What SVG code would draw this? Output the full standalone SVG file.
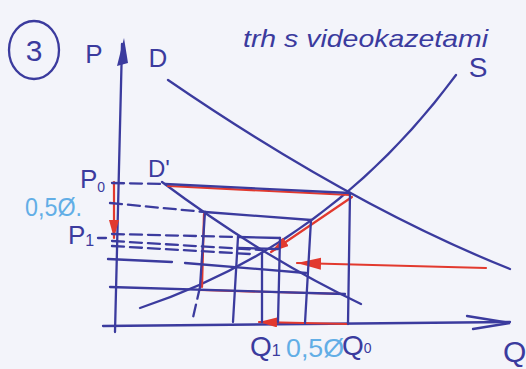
<svg xmlns="http://www.w3.org/2000/svg" width="526" height="369" viewBox="0 0 526 369">
<style>
.b{stroke:#3b3b9e;stroke-width:2.3;fill:none;stroke-linecap:round}
.d{stroke-dasharray:12 6}
.r{stroke:#e2392e;stroke-width:2.2;fill:none;stroke-linecap:round}
.t{font-family:"Liberation Sans",Arial,sans-serif;fill:#3b3b9e}
.lb{font-family:"Liberation Sans",Arial,sans-serif;fill:#62aee6}
</style>
<defs>
<marker id="ra" markerUnits="userSpaceOnUse" markerWidth="26" markerHeight="14" refX="24" refY="6" orient="auto">
<path d="M0,0 L24,6 L0,12 z" fill="#e2392e"/>
</marker>
<marker id="rs" markerUnits="userSpaceOnUse" markerWidth="20" markerHeight="12" refX="18" refY="5" orient="auto">
<path d="M0,0 L18,5 L0,10 z" fill="#e2392e"/>
</marker>
</defs>
<rect width="526" height="369" fill="#f3f4fa"/>

<g id="axes">
<path class="b" d="M115,332 L122,44"/>
<path d="M124,38 L117,66 L128,63 z" fill="#3b3b9e"/>
<path class="b" d="M103,326 L510,322"/>
<path class="b" d="M467,316 L510,323 L473,329"/>
</g>

<g id="curves">
<path class="b" d="M168,80 Q351,205.5 510,269"/>
<path class="b" d="M140,308 Q330,245 456,75"/>
<path class="b" d="M162,182 Q262.5,257 361,304"/>
</g>

<g id="red">
<path class="r" d="M168,186 L350,195"/>
<path class="r" d="M204,214 L202,287"/>
<path class="r" d="M200,290 L343,294"/>
<path class="r" d="M352,197 L271,252" marker-end="url(#rs)"/>
<path class="r" d="M486,268 L297,263" marker-end="url(#ra)"/>
<path class="r" d="M348,324 L259,322" marker-end="url(#rs)"/>
<path class="r" d="M114,182 L114,238" marker-end="url(#rs)"/>
</g>

<g id="connectors">
<path class="b d" d="M112,183 L165,184"/>
<path class="b" d="M165,184 L350,193"/>
<path class="b" d="M350,193 L348,324"/>
<path class="b d" d="M110,203 L205,212"/>
<path class="b" d="M205,212 L311,220"/>
<path class="b" d="M311,220 L305,323"/>
<path class="b" d="M205,212 L200,287"/>
<path class="b d" d="M200,287 L192,322"/>
<path class="b" d="M110,287 L345,294"/>
<path class="b" d="M108,259 L172,262"/>
<path class="b" d="M185,263 L306,273"/>
<path class="b" d="M238,237 L280,238"/>
<path class="b" d="M238,237 L233,322"/>
<path class="b" d="M280,238 L278,322"/>
<path class="b" d="M238,248 L278,249"/>
<path class="b" d="M262,253 L262,322"/>
<path class="b d" d="M112,234 L238,237"/>
<path class="b" d="M98,238 L106,238"/>
<path class="b d" d="M112,241 L262,250"/>
<path class="b d" d="M112,246 L250,254"/>
</g>

<g id="labels">
<ellipse cx="34" cy="50" rx="25" ry="29" class="b"/>
<text class="t" x="34" y="61" font-size="30" text-anchor="middle">3</text>
<text class="t" x="94" y="63" font-size="26" text-anchor="middle">P</text>
<text class="t" x="158" y="67" font-size="26" text-anchor="middle">D</text>
<text class="t" x="243" y="47" font-size="24" font-style="italic" textLength="245" lengthAdjust="spacingAndGlyphs">trh s videokazetami</text>
<text class="t" x="478" y="77" font-size="28" text-anchor="middle">S</text>
<text class="t" x="148" y="177" font-size="24">D'</text>
<text class="t" x="80" y="188" font-size="26">P<tspan font-size="14" dy="4">0</tspan></text>
<text class="lb" x="25" y="216" font-size="25" textLength="57" lengthAdjust="spacingAndGlyphs">0,5Ø.</text>
<text class="t" x="68" y="244" font-size="26">P<tspan font-size="16" dy="2">1</tspan></text>
<text class="t" x="250" y="356" font-size="28">Q<tspan font-size="16" dy="0">1</tspan></text>
<text class="lb" x="286" y="357" font-size="26" textLength="58" lengthAdjust="spacingAndGlyphs">0,5Ø</text>
<text class="t" x="342" y="355" font-size="28">Q<tspan font-size="14" dy="-2">0</tspan></text>
<text class="t" x="503" y="362" font-size="30">Q</text>
</g>
</svg>
